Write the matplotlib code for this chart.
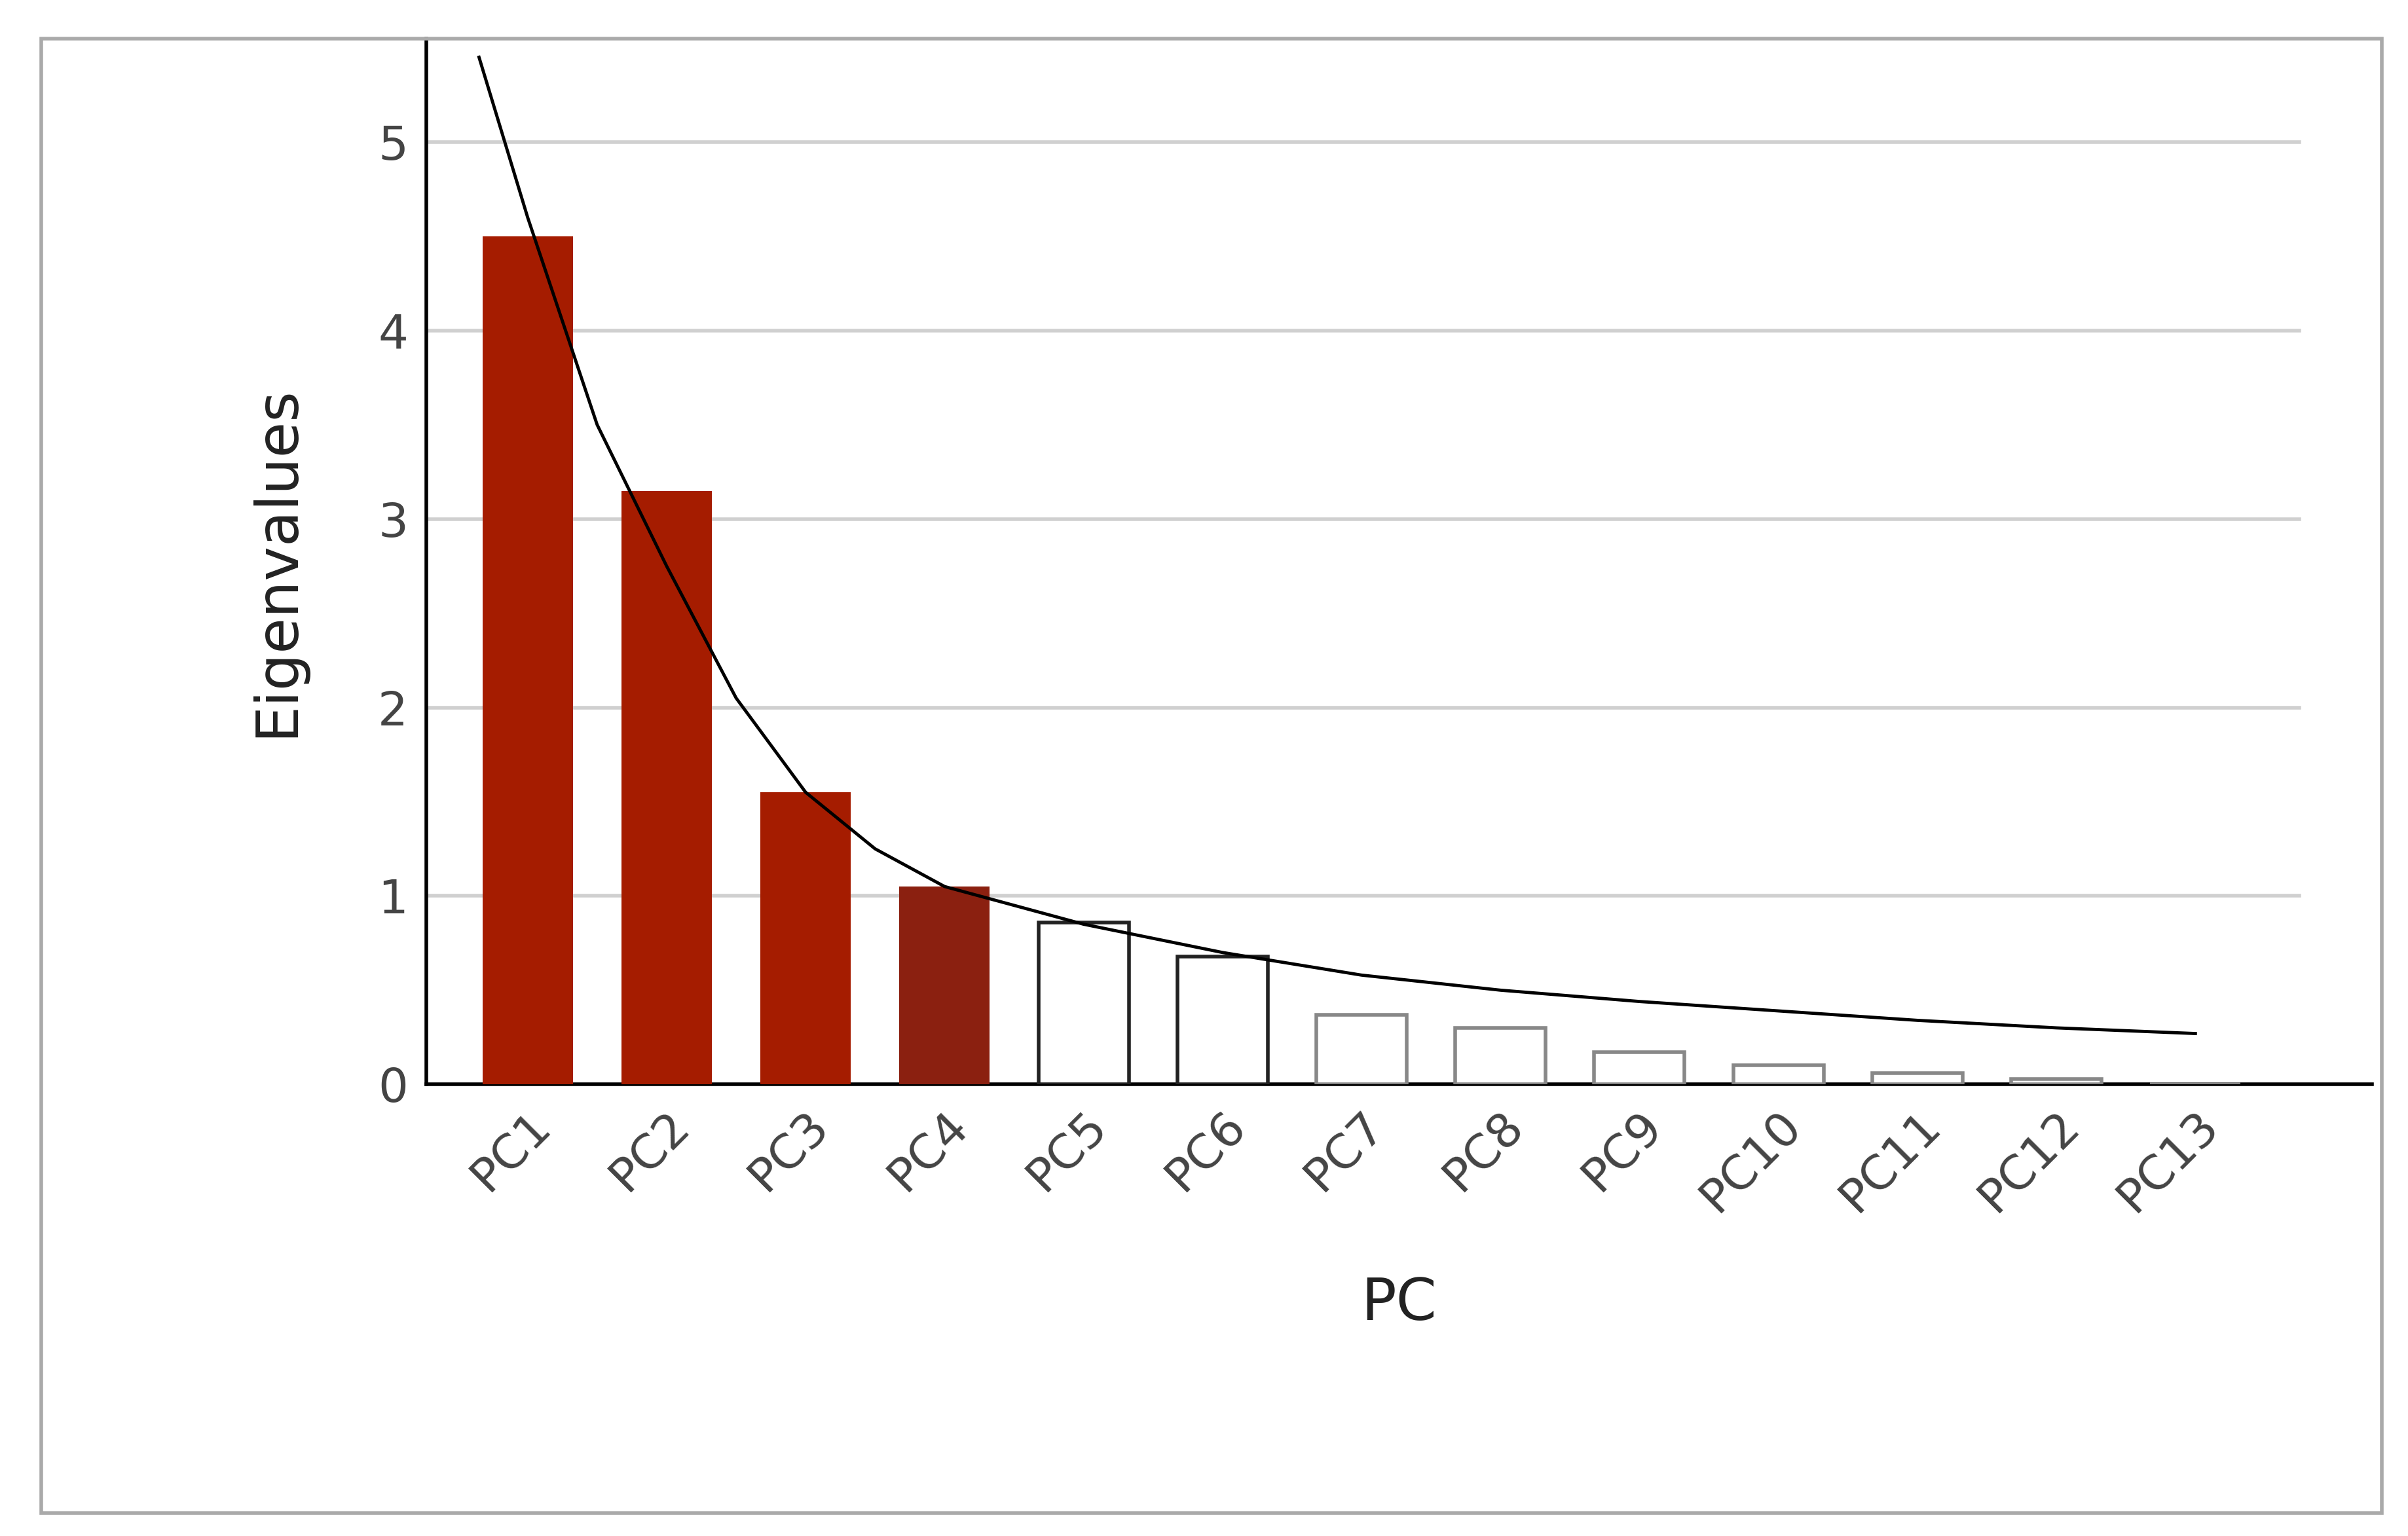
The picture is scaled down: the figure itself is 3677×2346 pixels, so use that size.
import matplotlib.pyplot as plt
import matplotlib.patches as mpatches
import numpy as np

labels = ["PC1", "PC2", "PC3", "PC4", "PC5", "PC6", "PC7", "PC8", "PC9", "PC10", "PC11", "PC12", "PC13"]
eigenvalues = [4.5, 3.15, 1.55, 1.05, 0.86, 0.68, 0.37, 0.30, 0.17, 0.10, 0.06, 0.03, 0.0]
curve_x = [-0.35, 0, 0.5, 1, 1.5, 2, 2.5, 3, 4, 5, 6, 7, 8, 9, 10, 11, 12]
curve_y = [5.45, 4.6, 3.5, 2.75, 2.05, 1.55, 1.25, 1.05, 0.85, 0.70, 0.58, 0.50, 0.44, 0.39, 0.34, 0.30, 0.27]

fig = plt.figure(figsize=(36.77, 23.46), dpi=100)
fig.patches.append(mpatches.Rectangle((0.017, 0.015), 0.972, 0.96, transform=fig.transFigure,
                                      fill=False, edgecolor="#aaaaaa", linewidth=4))
ax = fig.add_axes([0.177, 0.294, 0.808, 0.681])

x = np.arange(len(labels))
for i, v in enumerate(eigenvalues):
    if i < 3:
        ax.bar(i, v, width=0.65, color="#a51c00", zorder=3)
    elif i == 3:
        ax.bar(i, v, width=0.65, color="#8b2010", zorder=3)
    elif i < 6:
        ax.bar(i, v, width=0.65, facecolor="white", edgecolor="#222222", linewidth=4, zorder=3)
    else:
        ax.bar(i, v, width=0.65, facecolor="white", edgecolor="#888888", linewidth=4, zorder=3)

ax.plot(curve_x, curve_y, color="black", linewidth=3.5, zorder=4)

ax.set_xlim(-0.73, 13.27)
ax.set_ylim(0, 5.55)
ax.set_yticks([0, 1, 2, 3, 4, 5])
for yv in [1, 2, 3, 4, 5]:
    ax.plot([-0.73, 12.75], [yv, yv], color="#d0d0d0", linewidth=4, zorder=1)
ax.set_xticks(x)
ax.set_xticklabels(labels, rotation=45, ha="right", rotation_mode="anchor", color="#444444", fontsize=52)
ax.tick_params(axis="y", labelsize=52, colors="#444444", length=0, pad=20)
ax.tick_params(axis="x", length=0, pad=20)
for s in ["top", "right"]:
    ax.spines[s].set_visible(False)
ax.spines["left"].set_linewidth(4)
ax.spines["bottom"].set_linewidth(4)
ax.set_ylabel("Eigenvalues", fontsize=64, color="#222222", labelpad=80)
ax.set_xlabel("PC", fontsize=64, color="#222222", labelpad=60)

fig.savefig("out.png", dpi=100)
